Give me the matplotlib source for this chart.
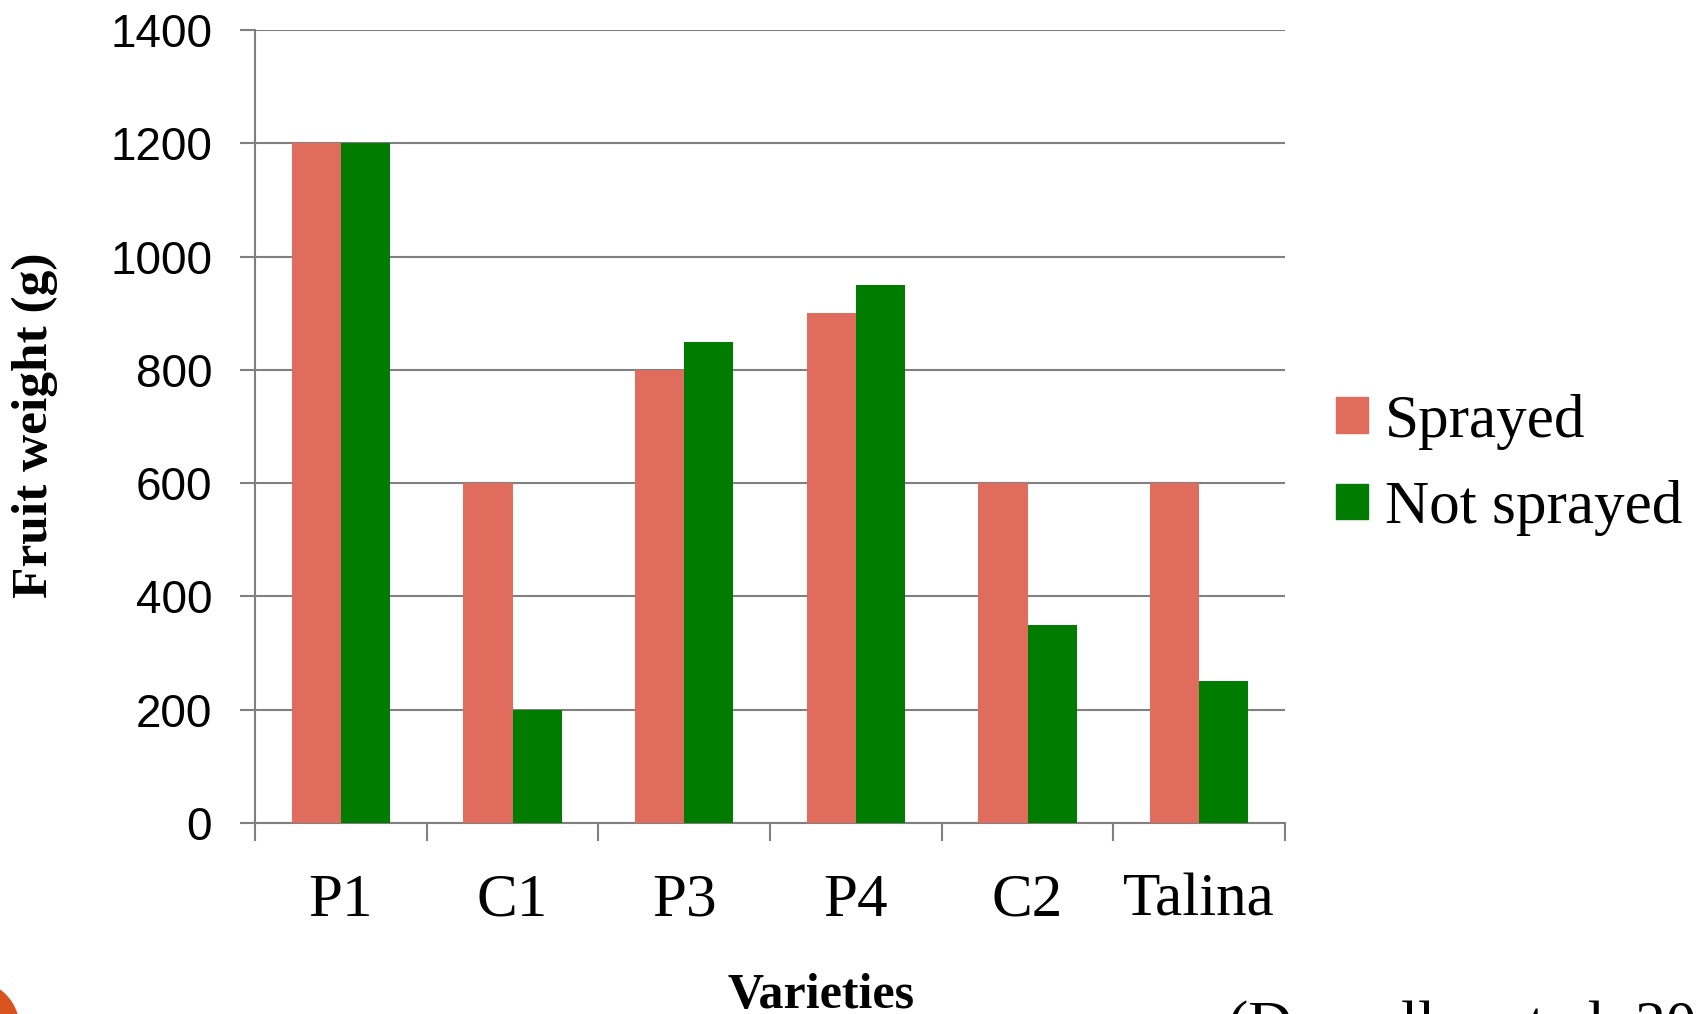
import matplotlib
matplotlib.use("Agg")
import matplotlib.pyplot as plt
import numpy as np
from matplotlib.patches import Ellipse, Patch

categories = ["P1", "C1", "P3", "P4", "C2", "Talina"]
sprayed = [1200, 600, 800, 900, 600, 600]
not_sprayed = [1200, 200, 850, 950, 350, 250]
yticks = [0, 200, 400, 600, 800, 1000, 1200, 1400]

C_SPRAY = "#E06C5E"
C_NOT = "#007D00"
GRAY = "#808080"
SERIF = "Liberation Serif"
SANS = "Liberation Sans"

W, H = 1707, 1014
fig = plt.figure(figsize=(W / 100, H / 100), dpi=100)
ax = fig.add_axes([255 / W, 1 - 823 / H, (1285 - 255) / W, (823 - 30) / H])

x = np.arange(len(categories))
bw = 1 / 3.5
ax.bar(x - bw / 2, sprayed, width=bw, color=C_SPRAY, label="Sprayed", zorder=3)
ax.bar(x + bw / 2, not_sprayed, width=bw, color=C_NOT, label="Not sprayed", zorder=3)

ax.set_xlim(-0.5, len(categories) - 0.5)
ax.set_ylim(0, 1400)
ax.set_yticks(yticks)
ax.set_yticklabels([str(v) for v in yticks], fontfamily=SANS, fontsize=33)
ax.yaxis.grid(True, color=GRAY, linewidth=1.5, zorder=0)
ax.set_axisbelow(True)

ax.set_xticks(x)
ax.set_xticklabels(categories, fontfamily=SERIF, fontsize=44)
ax.set_xticks(np.arange(-0.5, len(categories), 1.0), minor=True)
ax.tick_params(axis="x", which="major", length=0, pad=36)
ax.tick_params(axis="x", which="minor", length=13, width=1.5, color=GRAY, direction="out")
ax.tick_params(axis="y", which="major", length=10.8, width=1.5, color=GRAY, direction="out", pad=20)

for s in ["top", "right"]:
    ax.spines[s].set_visible(False)
for s in ["left", "bottom"]:
    ax.spines[s].set_color(GRAY)
    ax.spines[s].set_linewidth(1.5)

handles = [Patch(color=C_SPRAY), Patch(color=C_NOT)]
fig.legend(handles, ["Sprayed", "Not sprayed"], loc="center left",
           bbox_to_anchor=(1336 / W, 1 - 465 / H), frameon=False,
           prop={"family": SERIF, "size": 44}, handlelength=0.52, handleheight=0.52,
           handletextpad=0.28, labelspacing=0.5, borderpad=0, borderaxespad=0)

fig.text(35 / W, 1 - 425 / H, "Fruit weight (g)", rotation=90, ha="center", va="center",
         fontfamily=SERIF, fontweight="bold", fontsize=37)
fig.text(821 / W, 1 - 973 / H, "Varieties", ha="center", va="top",
         fontfamily=SERIF, fontweight="bold", fontsize=36)
fig.text(1228 / W, 1 - 1000 / H, "(Dornelles et al. 20", ha="left", va="top",
         fontfamily=SERIF, fontsize=44)

fig.patches.append(Ellipse((-28 / W, 1 - 1028 / H), 94 / W, 94 / H,
                           transform=fig.transFigure, color="#D9531E", zorder=5))

fig.savefig("out.png", dpi=100)
